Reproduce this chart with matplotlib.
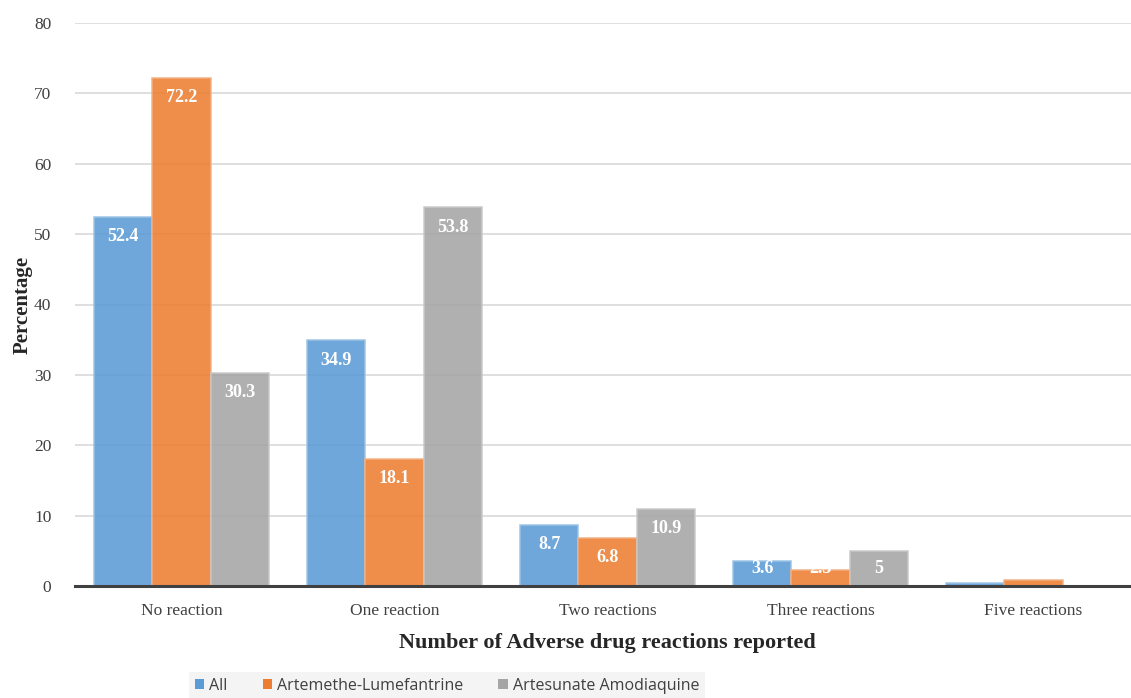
import numpy as np
import matplotlib.pyplot as plt
from matplotlib.patches import Patch

categories = ["No reaction", "One reaction", "Two reactions", "Three reactions", "Five reactions"]
series_names = ["All", "Artemethe-Lumefantrine", "Artesunate Amodiaquine"]
all_vals = [52.4, 34.9, 8.7, 3.6, 0.4]
al_vals = [72.2, 18.1, 6.8, 2.3, 0.8]
aa_vals = [30.3, 53.8, 10.9, 5, 0]
# five reactions bars carry no label
labelled = [True, True, True, True, False]

colors = ["#5B9BD5", "#ED7D31", "#A5A5A5"]
edges = ["#9DC3E6", "#F4B183", "#C9C9C9"]


def main():
  fig = plt.figure(figsize=(11.31, 6.98), dpi=100)
  ax = fig.add_axes([75 / 1131, 112 / 698, 1065 / 1131, 563 / 698])

  x = np.arange(len(categories))
  w = 0.273
  for i, (vals, c, ec) in enumerate(zip([all_vals, al_vals, aa_vals], colors, edges)):
    xs = x + (i - 1) * w
    ax.bar(xs, vals, width=w, color=c, alpha=0.88, edgecolor=ec, linewidth=1.2, zorder=2)
    for xi, v, lab in zip(xs, vals, labelled):
      if not lab:
        continue
      yc = max(v - 2.8, 2.5)
      ax.text(xi, yc, f"{v:g}", ha="center", va="center", color="white",
              fontsize=13, fontweight="bold", family="Liberation Serif", zorder=3)

  ax.set_xlim(-0.5, len(categories) - 0.5)
  ax.set_ylim(0, 80)
  ax.set_yticks(np.arange(0, 81, 10))
  ax.set_xticks(x)
  ax.set_xticklabels(categories)
  ax.grid(True, axis="y", color="#D9D9D9", linewidth=1.2, zorder=0)
  ax.set_axisbelow(True)
  for s in ["top", "right", "left"]:
    ax.spines[s].set_visible(False)
  ax.spines["bottom"].set_color("#404040")
  ax.spines["bottom"].set_linewidth(2.2)
  ax.spines["bottom"].set_zorder(4)
  ax.tick_params(length=0, labelsize=12.5, labelcolor="#404040", pad=12)
  for t in ax.get_xticklabels() + ax.get_yticklabels():
    t.set_family("Liberation Serif")
  ax.tick_params(axis="y", pad=17)

  ax.set_xlabel("Number of Adverse drug reactions reported", family="Liberation Serif",
                fontsize=16, fontweight="bold", color="#262626", labelpad=10)
  ax.set_ylabel("Percentage", family="Liberation Serif", fontsize=15,
                fontweight="bold", color="#262626")
  ax.yaxis.set_label_coords(-0.04, 0.5)

  handles = [Patch(facecolor=c, edgecolor="none") for c in colors]
  leg = fig.legend(handles, series_names, loc="center", bbox_to_anchor=(447 / 1131, 12 / 698),
                   ncol=3, frameon=True, fancybox=False, handlelength=0.6, handleheight=0.6,
                   handletextpad=0.3, columnspacing=2.2, borderpad=0.35,
                   prop={"family": "Open Sans", "size": 11.5})
  leg.get_frame().set_facecolor("#F2F2F2")
  leg.get_frame().set_edgecolor("none")
  for t in leg.get_texts():
    t.set_color("#404040")

  fig.savefig("out.png", dpi=100)


if __name__ == "__main__":
  main()
